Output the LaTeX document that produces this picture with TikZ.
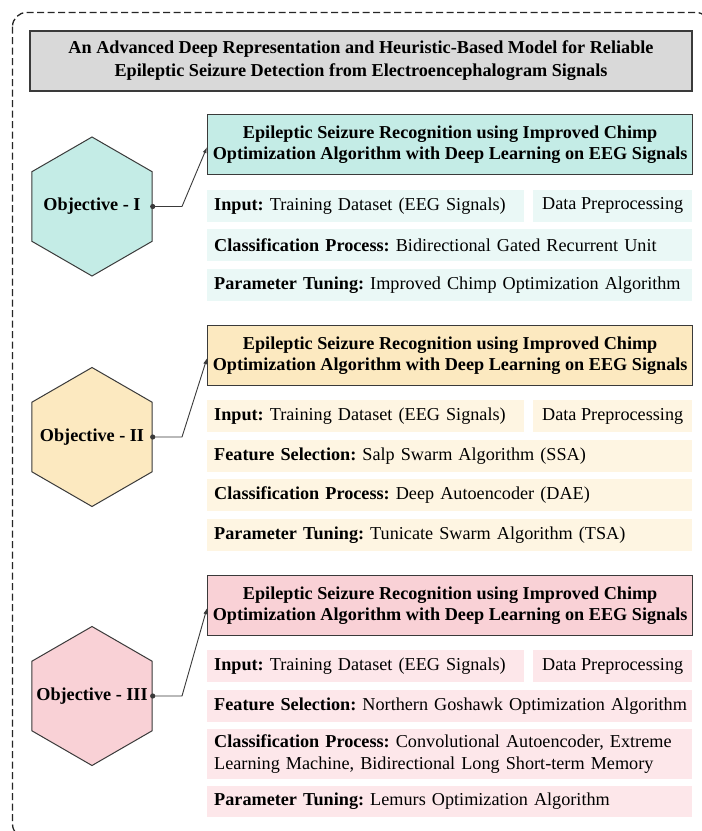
\documentclass[tikz,border=0pt]{standalone}
\usepackage{fontspec}
\setmainfont{Liberation Serif}
\usetikzlibrary{shapes.geometric,arrows.meta,calc}
\definecolor{tealH}{HTML}{C4ECE6}
\definecolor{tealR}{HTML}{EAF8F6}
\definecolor{yelH}{HTML}{FCE9C0}
\definecolor{yelR}{HTML}{FEF5E2}
\definecolor{pinkH}{HTML}{F9D1D6}
\definecolor{pinkR}{HTML}{FDE7EA}
\definecolor{titleG}{HTML}{D9D9D9}
\definecolor{edgeC}{HTML}{3A3A3A}
\begin{document}
\frenchspacing
\begin{tikzpicture}[x=1pt,y=-1pt,
  font=\fontsize{18.2}{21.5}\selectfont\frenchspacing,
  titlebox/.style={draw=edgeC, line width=1.3pt, fill=titleG, minimum width=662pt, minimum height=60pt, inner sep=0pt, align=center, font=\fontsize{18.2}{23}\selectfont\bfseries\frenchspacing},
  headbox/.style={draw=edgeC, line width=1.3pt, minimum width=485pt, minimum height=60pt, inner sep=0pt, align=center, font=\fontsize{18.2}{21.5}\selectfont\bfseries\frenchspacing, anchor=north west},
  rowbox/.style={minimum height=32pt, inner xsep=7pt, inner ysep=0pt, align=left, anchor=north west, text width=#1},
  rowbox/.default=471pt,
  prepbox/.style={minimum height=32pt, minimum width=159pt, inner sep=0pt, anchor=north west},
  hexa/.style={regular polygon, regular polygon sides=6, shape border rotate=30, minimum size=139pt, inner sep=0pt, draw=edgeC, line width=1pt},
  objtext/.style={font=\fontsize{18.2}{21.5}\selectfont\bfseries},
  conn/.style={draw=edgeC, line width=0.9pt, -{Latex[length=6pt,width=4pt]}},
  border/.style={draw=black!85, line width=1.3pt, dash pattern=on 7pt off 3.5pt, rounded corners=14pt}
]
\useasboundingbox (0,0) rectangle (702,831);
\fill[white] (0,0) rectangle (702,831);
\begin{scope}
  \clip (0,0) rectangle (702,831);
  \draw[border] (12.5,12.5) rectangle (710,838);
\end{scope}

% Title
\node[titlebox] (title) at (361,61) {An Advanced Deep Representation and Heuristic-Based Model for Reliable\\Epileptic Seizure Detection from Electroencephalogram Signals};

% ---------- Objective I ----------
\node[headbox, fill=tealH] (hd1) at (207,114) {Epileptic Seizure Recognition using Improved Chimp\\Optimization Algorithm with Deep Learning on EEG Signals};
\node[rowbox=303pt, fill=tealR] (r1a) at (207,189.5) {\mbox{\textbf{Input:} Training Dataset (EEG Signals)}};
\node[prepbox, fill=tealR] (r1b) at (533,189.5) {Data Preprocessing};
\node[rowbox, fill=tealR] (r1c) at (207,229) {\mbox{\textbf{Classification Process:} Bidirectional Gated Recurrent Unit}};
\node[rowbox, fill=tealR] (r1d) at (207,268.5) {\mbox{\textbf{Parameter Tuning:} Improved Chimp Optimization Algorithm}};
\node[hexa, fill=tealH] (h1) at (92,206.5) {};
\node[objtext] (o1) at (h1) {Objective - I};
\coordinate (k1) at (182,206.5);
\draw[conn] (h1.east) -- (k1) -- ($(hd1.west)+(0,2.5)$);
\fill[edgeC] (h1.east) circle (2.6);

% ---------- Objective II ----------
\node[headbox, fill=yelH] (hd2) at (207,325) {Epileptic Seizure Recognition using Improved Chimp\\Optimization Algorithm with Deep Learning on EEG Signals};
\node[rowbox=303pt, fill=yelR] (r2a) at (207,400) {\mbox{\textbf{Input:} Training Dataset (EEG Signals)}};
\node[prepbox, fill=yelR] (r2b) at (533,400) {Data Preprocessing};
\node[rowbox, fill=yelR] (r2c) at (207,439.5) {\mbox{\textbf{Feature Selection:} Salp Swarm Algorithm (SSA)}};
\node[rowbox, fill=yelR] (r2d) at (207,479) {\mbox{\textbf{Classification Process:} Deep Autoencoder (DAE)}};
\node[rowbox, fill=yelR] (r2e) at (207,518.5) {\mbox{\textbf{Parameter Tuning:} Tunicate Swarm Algorithm (TSA)}};
\node[hexa, fill=yelH] (h2) at (92,437) {};
\node[objtext] (o2) at (h2) {Objective - II};
\coordinate (k2) at (182,437);
\draw[conn] (h2.east) -- (k2) -- ($(hd2.west)+(0,2.5)$);
\fill[edgeC] (h2.east) circle (2.6);

% ---------- Objective III ----------
\node[headbox, fill=pinkH] (hd3) at (207,575) {Epileptic Seizure Recognition using Improved Chimp\\Optimization Algorithm with Deep Learning on EEG Signals};
\node[rowbox=303pt, fill=pinkR] (r3a) at (207,650) {\mbox{\textbf{Input:} Training Dataset (EEG Signals)}};
\node[prepbox, fill=pinkR] (r3b) at (533,650) {Data Preprocessing};
\node[rowbox, fill=pinkR] (r3c) at (207,689.5) {\mbox{\textbf{Feature Selection:} Northern Goshawk Optimization Algorithm}};
\node[rowbox, fill=pinkR, minimum height=50pt] (r3d) at (207,729) {\mbox{\textbf{Classification Process:} Convolutional Autoencoder, Extreme}\\Learning Machine, Bidirectional Long Short-term Memory};
\node[rowbox, fill=pinkR, minimum height=31pt] (r3e) at (207,785.5) {\mbox{\textbf{Parameter Tuning:} Lemurs Optimization Algorithm}};
\node[hexa, fill=pinkH] (h3) at (92,696) {};
\node[objtext] (o3) at (h3) {Objective - III};
\coordinate (k3) at (182,696);
\draw[conn] (h3.east) -- (k3) -- ($(hd3.west)+(0,2.5)$);
\fill[edgeC] (h3.east) circle (2.6);
\end{tikzpicture}
\end{document}
